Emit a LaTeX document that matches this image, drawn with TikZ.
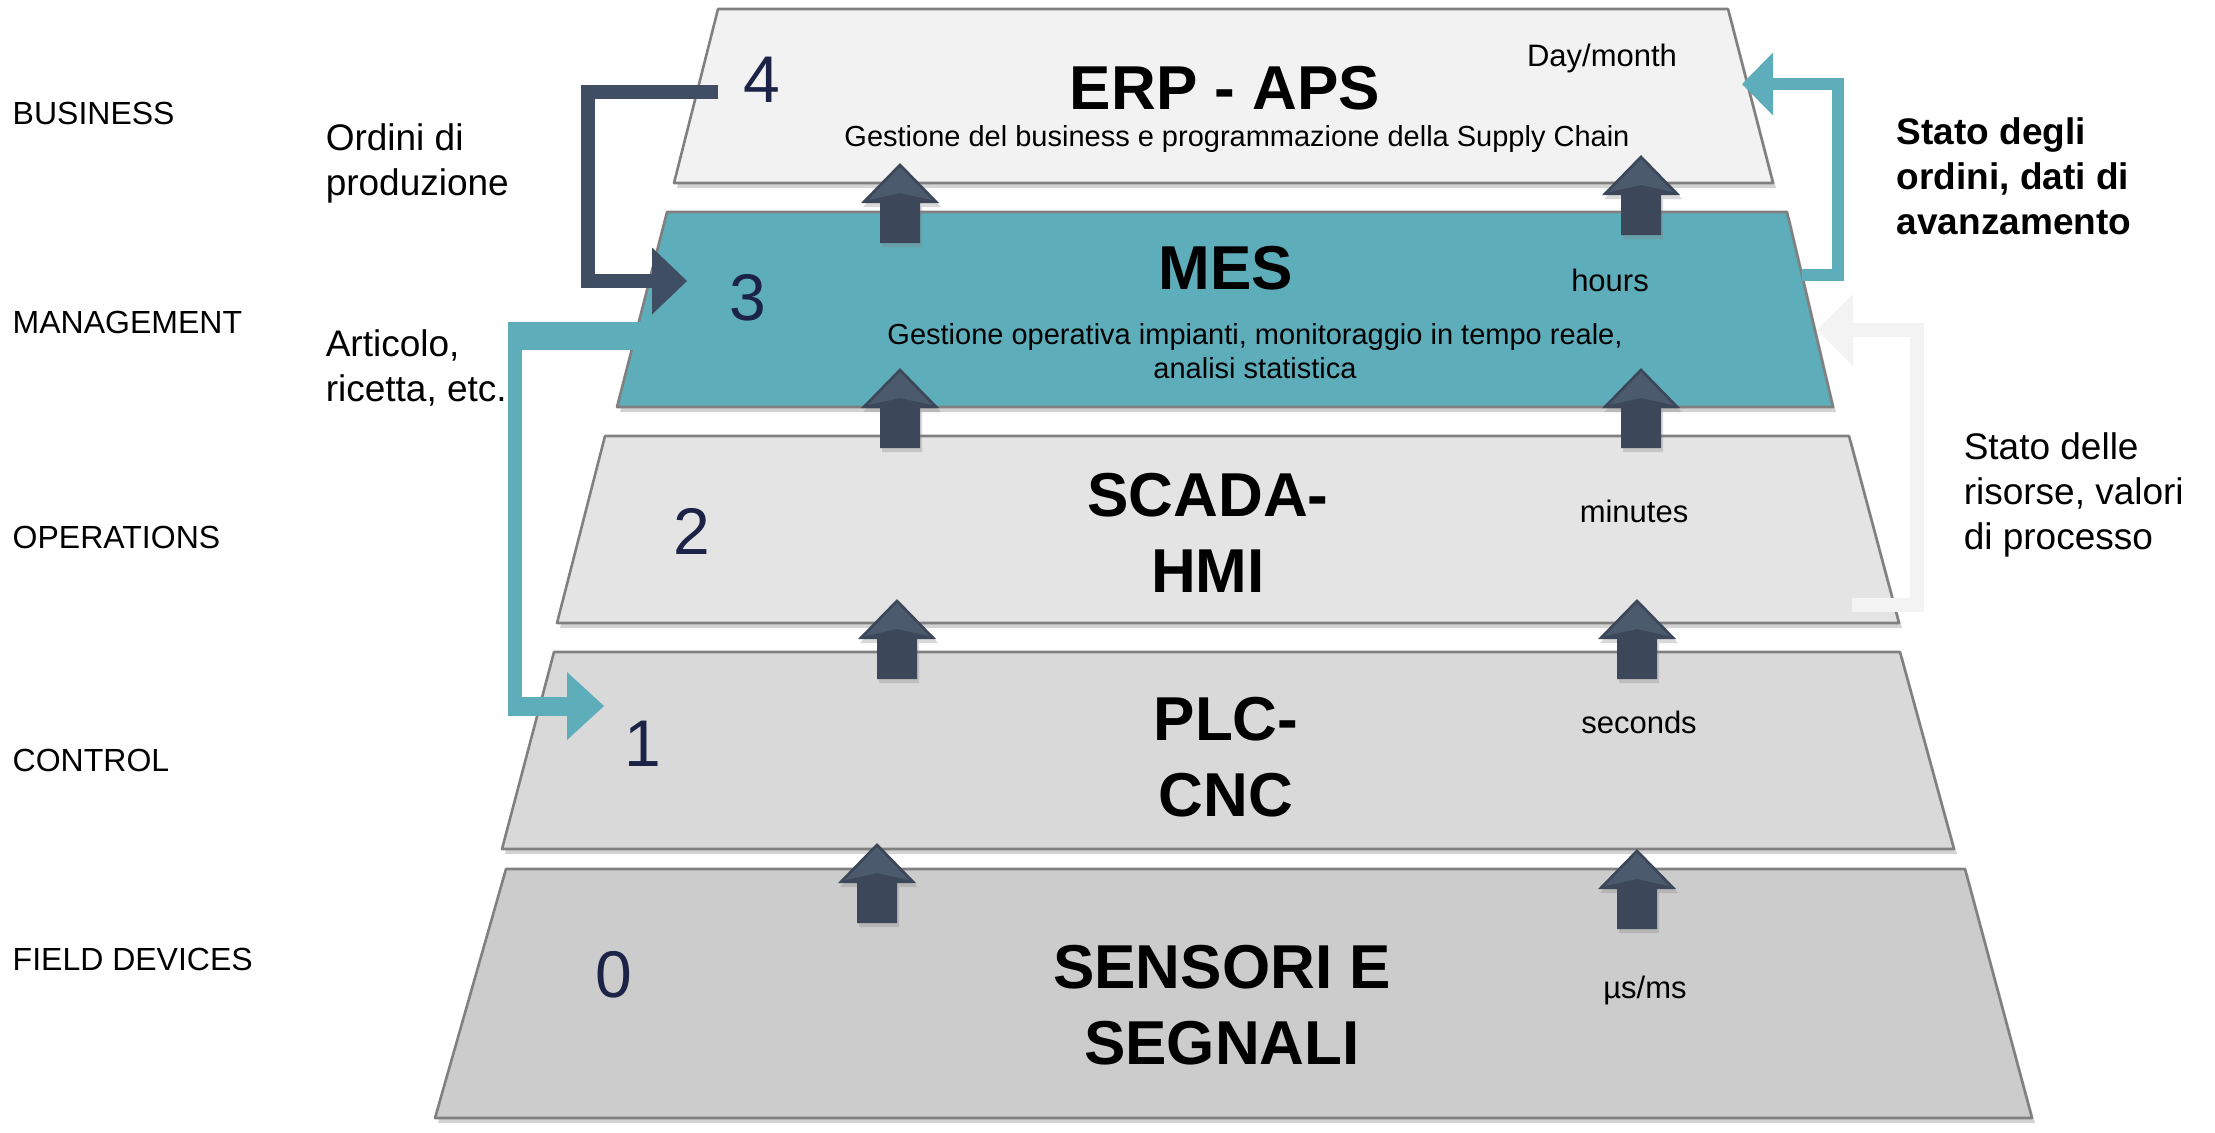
\documentclass[tikz,border=0pt]{standalone}
\usepackage{fontspec}
\setmainfont{Liberation Sans}
\usetikzlibrary{arrows.meta,shadows}

\definecolor{tealmes}{RGB}{94,173,187}
\definecolor{slatearr}{RGB}{60,72,90}
\definecolor{slatehead}{RGB}{76,90,110}
\definecolor{slatedark}{RGB}{64,78,100}
\definecolor{navynum}{RGB}{27,35,70}
\definecolor{erpfill}{RGB}{242,242,242}
\definecolor{scadafill}{RGB}{228,228,228}
\definecolor{plcfill}{RGB}{217,217,217}
\definecolor{sensfill}{RGB}{204,204,204}
\definecolor{edgegray}{RGB}{128,128,128}
\definecolor{lightconn}{RGB}{243,243,243}

\tikzset{every picture/.style={line width=0.75pt}}
\tikzset{
  layer/.style={draw=edgegray, line width=1.3pt, line join=round,
    drop shadow={shadow xshift=1.5pt, shadow yshift=-2.5pt, opacity=0.35}},
  lvltitle/.style={font=\fontsize{31}{38}\selectfont\bfseries, align=center, inner sep=0pt},
  lvlnum/.style={font=\fontsize{33}{40}\selectfont, text=navynum, inner sep=0pt},
  lvlsub/.style={font=\fontsize{14.5}{17}\selectfont, align=center, inner sep=0pt},
  lvltime/.style={font=\fontsize{15.5}{19}\selectfont, inner sep=0pt},
  sidelbl/.style={font=\fontsize{16}{19}\selectfont, anchor=west, inner sep=0pt},
  note/.style={font=\fontsize{18.5}{22.5}\selectfont, align=left, anchor=west, inner sep=0pt},
  feedback/.style={line width=7pt, line join=miter},
  % pic axes point up here, so the body goes to negative y
  uparrow/.pic={
    \fill[slatearr, drop shadow={shadow xshift=1pt, shadow yshift=-2pt, opacity=0.3}]
      (0,0) -- (39,-40) -- (20,-40) -- (20,-80) -- (-20,-80) -- (-20,-40) -- (-39,-40) -- cycle;
    \fill[slatehead] (0,-4) -- (32,-37) -- (0,-30) -- (-32,-37) -- cycle;
  }
}

\begin{document}
\begin{tikzpicture}[x=0.5pt,y=0.5pt,yscale=-1,xscale=1]
\path[use as bounding box] (0,0) rectangle (2215,1132);

%Shape: Trapezoid (level 0)
\draw[layer, fill=sensfill] (506,869) -- (1965,869) -- (2032,1118) -- (435,1118) -- cycle;
%Shape: Trapezoid (level 1)
\draw[layer, fill=plcfill] (554,652) -- (1900,652) -- (1954,849) -- (502,849) -- cycle;
%Shape: Trapezoid (level 2)
\draw[layer, fill=scadafill] (605,436) -- (1849,436) -- (1899,623) -- (557,623) -- cycle;
%Shape: Trapezoid (level 3)
\draw[layer, fill=tealmes] (667,212) -- (1787,212) -- (1833,407) -- (617,407) -- cycle;
%Shape: Trapezoid (level 4)
\draw[layer, fill=erpfill] (718,9) -- (1728,9) -- (1773,183) -- (674,183) -- cycle;

%Up Arrows
\pic at (877,843) {uparrow};
\pic at (1637,849) {uparrow};
\pic at (897,599) {uparrow};
\pic at (1637,599) {uparrow};
\pic at (900,368) {uparrow};
\pic at (1641,368) {uparrow};
\pic at (900,163) {uparrow};
\pic at (1641,155) {uparrow};

%Connector: ordini di produzione
\coordinate (ordA) at (718,92);
\coordinate (ordB) at (588,92);
\coordinate (ordC) at (588,281);
\coordinate (ordD) at (687,281);
\draw[feedback, draw=slatedark, -{Triangle[length=17.5pt,width=33.5pt,line width=0pt]}] (ordA) -- (ordB) -- (ordC) -- (ordD);

%Connector: articolo, ricetta
\coordinate (artA) at (690,336);
\coordinate (artB) at (515,336);
\coordinate (artC) at (515,706);
\coordinate (artD) at (604,706);
\fill[tealmes] (508,322) rectangle (690,350);
\fill[tealmes] (508,697) rectangle (570,716);
\draw[feedback, draw=tealmes, -{Triangle[length=18.5pt,width=34pt,line width=0pt]}] (artA) -- (artB) -- (artC) -- (artD);

%Connector: stato degli ordini
\coordinate (stA) at (1802,275);
\coordinate (stB) at (1838,275);
\coordinate (stC) at (1838,84);
\coordinate (stD) at (1742,84);
\draw[feedback, line width=6pt, draw=tealmes, -{Triangle[length=15.5pt,width=31.5pt,line width=0pt]}] (stA) -- (stB) -- (stC) -- (stD);

%Connector: stato delle risorse
\coordinate (risA) at (1852,605);
\coordinate (risB) at (1917,605);
\coordinate (risC) at (1917,330);
\coordinate (risD) at (1817,330);
\draw[feedback, draw=lightconn, -{Triangle[length=18pt,width=36pt,line width=0pt]}] (risA) -- (risB) -- (risC) -- (risD);

% Text Node
\node[lvltitle] (erp) at (1225,88) {ERP - APS};
\node[lvlsub] (erpsub) at (1237,139) {Gestione del business e programmazione della Supply Chain};
\node[lvltime] (erptime) at (1602,58) {Day/month};
\node[lvlnum] (erpnum) at (762,80) {4};
% Text Node
\node[lvltitle] (mes) at (1226,268) {MES};
\node[lvlsub] (messub) at (1255,351) {Gestione operativa impianti, monitoraggio in tempo reale,\\analisi statistica};
\node[lvltime] (mestime) at (1610,280) {hours};
\node[lvlnum] (mesnum) at (748,298) {3};
% Text Node
\node[lvltitle] (scada) at (1208,533) {SCADA-\\HMI};
\node[lvltime] (scadatime) at (1634,511) {minutes};
\node[lvlnum] (scadanum) at (692,531) {2};
% Text Node
\node[lvltitle] (plc) at (1226,757) {PLC-\\CNC};
\node[lvltime] (plctime) at (1639,722) {seconds};
\node[lvlnum] (plcnum) at (643,744) {1};
% Text Node
\node[lvltitle] (sens) at (1222,1005) {SENSORI E\\SEGNALI};
\node[lvltime] (senstime) at (1645,990) {µs/ms};
\node[lvlnum] (sensnum) at (614,975) {0};

% Text Node
\node[sidelbl] (business) at (12,113) {BUSINESS};
\node[sidelbl] (management) at (12,322) {MANAGEMENT};
\node[sidelbl] (operations) at (12,537) {OPERATIONS};
\node[sidelbl] (control) at (12,760) {CONTROL};
\node[sidelbl] (field) at (12,959) {FIELD DEVICES};

% Text Node
\node[note] (ordini) at (325,163) {Ordini di\\produzione};
\node[note] (articolo) at (325,368) {Articolo,\\ricetta, etc.};
\node[note, font=\fontsize{18.5}{22.5}\selectfont\bfseries] (statoord) at (1896,176) {Stato degli\\ordini, dati di\\avanzamento};
\node[note] (statoris) at (1963,495) {Stato delle\\risorse, valori\\di processo};

\end{tikzpicture}
\end{document}
